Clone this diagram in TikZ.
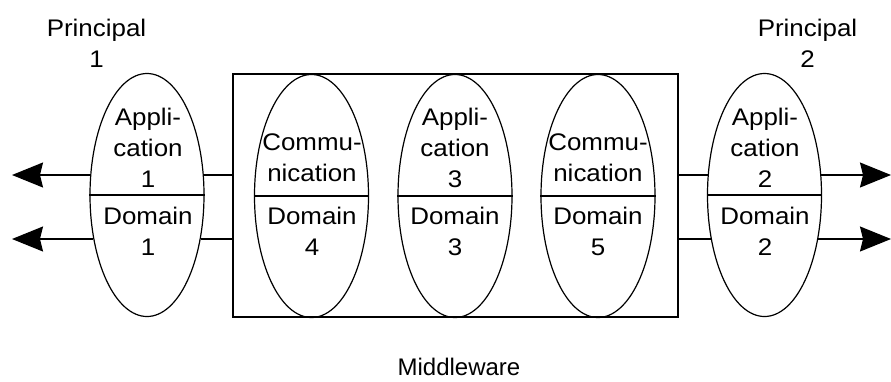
\documentclass[tikz,border=0pt]{standalone}
\usepackage{fontspec}
\setmainfont{Liberation Sans}
\newfontfamily\widefont[FakeStretch=1.08]{Liberation Sans}
\usetikzlibrary{shapes.geometric,arrows.meta,calc}
\begin{document}
\begin{tikzpicture}[x=1pt,y=-1pt,line width=1.2pt,
  dom/.style={draw,ellipse,minimum width=114pt,minimum height=243pt,inner sep=0pt},
  txt/.style={align=center,inner sep=0pt,font=\widefont\fontsize{24}{31}\selectfont},
  uptxt/.style={txt,anchor=south},
  lowtxt/.style={txt,anchor=north},
  arr/.style={-{Stealth[length=31pt,width=25pt,inset=3pt]}},
  box/.style={draw,rectangle,minimum width=445pt,minimum height=243pt,inner sep=0pt}]
\useasboundingbox (0,0) rectangle (891,381);
\node[box] (mw) at (455.5,195.5) {};
\node[dom] (e1) at (147,195) {};
\node[dom] (e4) at (311.5,196) {};
\node[dom] (e3) at (455,196) {};
\node[dom] (e5) at (598,196) {};
\node[dom] (e2) at (764.5,195) {};
\foreach \e in {e1,e2,e3,e4,e5} { \draw (\e.west) -- (\e.east); }
% texts
\node[uptxt] (t1) at (148,188) {Appli-\\cation\\1};
\node[lowtxt] (d1) at (148,207) {Domain\\1};
\node[uptxt] (t4) at (312,182) {Commu-\\nication};
\node[lowtxt] (d4) at (312,207) {Domain\\4};
\node[uptxt] (t3) at (455,188) {Appli-\\cation\\3};
\node[lowtxt] (d3) at (455,207) {Domain\\3};
\node[uptxt] (t5) at (598,182) {Commu-\\nication};
\node[lowtxt] (d5) at (598,207) {Domain\\5};
\node[uptxt] (t2) at (765,188) {Appli-\\cation\\2};
\node[lowtxt] (d2) at (765,207) {Domain\\2};
\node[txt,anchor=north] (p1) at (96.5,19) {Principal\\1};
\node[txt,anchor=north] (p2) at (807.5,19) {Principal\\2};
\node[inner sep=0pt,font=\fontsize{24}{31}\selectfont,anchor=base] (mwl) at (459,375) {Middleware};
% border points
\coordinate (e1ul) at ($(e1.center)+(-56.2,-20)$);
\coordinate (e1ur) at ($(e1.center)+(56.2,-20)$);
\coordinate (e1ll) at ($(e1.center)+(-53.6,44)$);
\coordinate (e1lr) at ($(e1.center)+(53.6,44)$);
\coordinate (e2ul) at ($(e2.center)+(-56.2,-20)$);
\coordinate (e2ur) at ($(e2.center)+(56.2,-20)$);
\coordinate (e2ll) at ($(e2.center)+(-53.6,44)$);
\coordinate (e2lr) at ($(e2.center)+(53.6,44)$);
\coordinate (tl1) at (12,175);
\coordinate (tl2) at (12,239);
\coordinate (tr1) at (891,175);
\coordinate (tr2) at (891,239);
\draw[arr] (e1ul) -- (tl1);
\draw[arr] (e1ll) -- (tl2);
\draw[arr] (e2ur) -- (tr1);
\draw[arr] (e2lr) -- (tr2);
\draw (e1ur) -- (mw.west |- e1ur);
\draw (e1lr) -- (mw.west |- e1lr);
\draw (e2ul) -- (mw.east |- e2ul);
\draw (e2ll) -- (mw.east |- e2ll);
\end{tikzpicture}
\end{document}
